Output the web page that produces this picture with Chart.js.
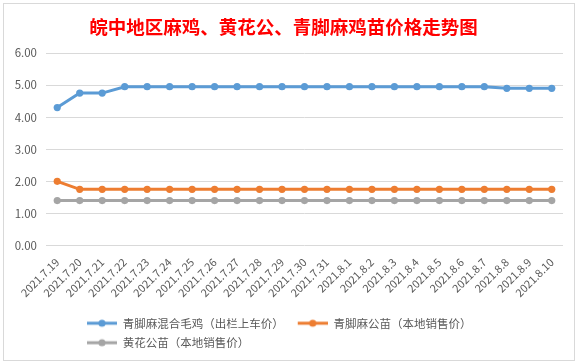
<!DOCTYPE html>
<html>
<head>
<meta charset="utf-8">
<script src="https://cdn.jsdelivr.net/npm/chart.js@4/dist/chart.umd.min.js"></script>
<style>
html,body{margin:0;padding:0;background:#fff;}
#frame{position:absolute;left:3px;top:3px;width:572px;height:358px;border:1px solid #d9d9d9;box-sizing:border-box;background:#fff;}
#c{display:block;}
</style>
</head>
<body>
<div id="frame"><canvas id="c" width="570" height="356"></canvas></div>
<script>
const titleText = '皖中地区麻鸡、黄花公、青脚麻鸡苗价格走势图';
const categories = ['2021.7.19','2021.7.20','2021.7.21','2021.7.22','2021.7.23','2021.7.24','2021.7.25','2021.7.26','2021.7.27','2021.7.28','2021.7.29','2021.7.30','2021.7.31','2021.8.1','2021.8.2','2021.8.3','2021.8.4','2021.8.5','2021.8.6','2021.8.7','2021.8.8','2021.8.9','2021.8.10'];
const seriesNames = ['青脚麻混合毛鸡（出栏上车价）','青脚麻公苗（本地销售价）','黄花公苗（本地销售价）'];
const mixedChicken = [4.3,4.75,4.75,4.95,4.95,4.95,4.95,4.95,4.95,4.95,4.95,4.95,4.95,4.95,4.95,4.95,4.95,4.95,4.95,4.95,4.9,4.9,4.9];
const maleChick = [2.0,1.75,1.75,1.75,1.75,1.75,1.75,1.75,1.75,1.75,1.75,1.75,1.75,1.75,1.75,1.75,1.75,1.75,1.75,1.75,1.75,1.75,1.75];
const yellowChick = [1.4,1.4,1.4,1.4,1.4,1.4,1.4,1.4,1.4,1.4,1.4,1.4,1.4,1.4,1.4,1.4,1.4,1.4,1.4,1.4,1.4,1.4,1.4];
const yTicks = [0,1,2,3,4,5,6];

const colors = ['#5B9BD5','#ED7D31','#A5A5A5'];
const values = [mixedChicken, maleChick, yellowChick];

function legendIcon(color){
  const cv = document.createElement('canvas');
  cv.width = 36; cv.height = 10;
  const g = cv.getContext('2d');
  g.strokeStyle = color; g.lineWidth = 3;
  g.beginPath(); g.moveTo(6,5); g.lineTo(36,5); g.stroke();
  g.fillStyle = color;
  g.beginPath(); g.arc(21,5,3.6,0,Math.PI*2); g.fill();
  return cv;
}
const icons = colors.map(legendIcon);

const FONT = '"Noto Sans CJK SC", "Noto Sans", sans-serif';

const legendShift = {
  id: 'legendShift',
  afterLayout(chart){
    const lg = chart.legend;
    const w = lg.right - lg.left;
    lg.left = 69;
    lg.right = lg.left + w;
  }
};

new Chart(document.getElementById('c'), {
  type: 'line',
  data: {
    labels: categories,
    datasets: values.map((v,i)=>({
      label: seriesNames[i],
      data: v,
      borderColor: colors[i],
      backgroundColor: colors[i],
      pointBackgroundColor: colors[i],
      pointBorderColor: colors[i],
      borderWidth: 3,
      pointRadius: 3.6,
      pointBorderWidth: 0,
      tension: 0,
      fill: false
    }))
  },
  options: {
    responsive: false,
    animation: false,
    devicePixelRatio: 1,
    layout: { padding: { left: 0, right: 11, top: 2, bottom: 1.5 } },
    plugins: {
      title: {
        display: true,
        text: titleText,
        color: '#ff0000',
        font: { family: FONT, size: 18.5, weight: 'bold' },
        padding: { top: 10, bottom: 14.8 }
      },
      legend: {
        position: 'bottom',
        align: 'start',
        fullSize: false,
        labels: {
          usePointStyle: true,
          pointStyleWidth: 36,
          padding: 8,
          color: '#595959',
          font: { family: FONT, size: 11.5 },
          generateLabels(chart){
            const items = Chart.defaults.plugins.legend.labels.generateLabels(chart);
            items.forEach((it,i)=>{ it.pointStyle = icons[i]; });
            return items;
          }
        }
      },
      tooltip: { enabled: false }
    },
    scales: {
      x: {
        offset: true,
        grid: { display: false, drawTicks: false },
        border: { display: false },
        ticks: {
          color: '#595959',
          font: { family: FONT, size: 11 },
          minRotation: 45, maxRotation: 45,
          autoSkip: false,
          padding: 10
        },
        afterFit(scale){ scale.height = 64; }
      },
      y: {
        min: 0, max: 6,
        afterBuildTicks(scale){ scale.ticks = yTicks.map(v=>({value:v})); },
        grid: { color: '#d9d9d9', lineWidth: 1, drawTicks: false },
        border: { display: false },
        ticks: {
          color: '#595959',
          font: { family: FONT, size: 11.5 },
          padding: 9,
          callback: v => Number(v).toFixed(2)
        },
        afterFit(scale){ scale.width = 42; }
      }
    }
  },
  plugins: [legendShift]
});
</script>
</body>
</html>
